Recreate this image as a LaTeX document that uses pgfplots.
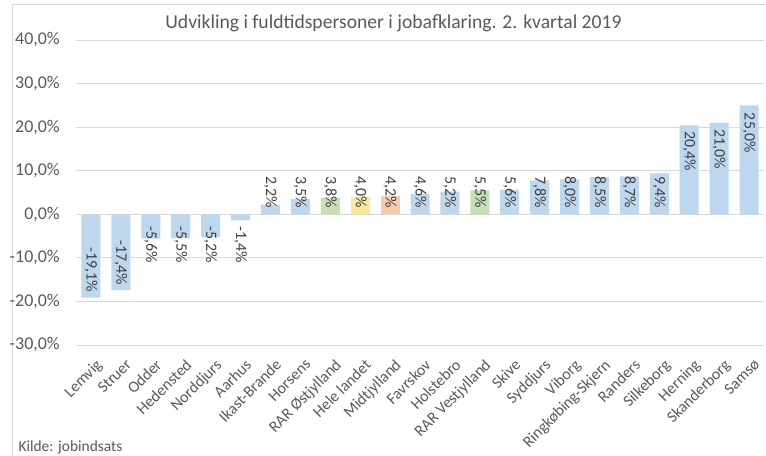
\documentclass[border=0pt]{standalone}
\usepackage{fontspec}
\setmainfont{Carlito}
\usepackage{pgfplots}
\pgfplotsset{compat=1.18}
\definecolor{barblue}{HTML}{BDD7EE}
\definecolor{bargreen}{HTML}{C5E0B4}
\definecolor{baryellow}{HTML}{FFE699}
\definecolor{barorange}{HTML}{F8CBAD}
\definecolor{gridgray}{HTML}{D9D9D9}
\definecolor{textgray}{HTML}{595959}
\definecolor{labelgray}{HTML}{404040}

\begin{document}
\begin{tikzpicture}
\path[use as bounding box] (0,0) rectangle (766bp,456bp);
\draw[gridgray, line width=0.8bp] (12bp,0) -- (12bp,452bp) -- (766bp,452bp);
\begin{axis}[
  at={(76bp,111bp)}, anchor=south west,
  scale only axis, width=688bp, height=305bp,
  xmin=-0.5, xmax=22.5, ymin=-30, ymax=40,
  axis line style={draw=none},
  major tick length=0pt,
  ytick={-30,-20,...,40},
  yticklabels={{-30,0\%},{-20,0\%},{-10,0\%},{0,0\%},{10,0\%},{20,0\%},{30,0\%},{40,0\%}},
  yticklabel style={font=\fontsize{18}{20}\selectfont, color=textgray, inner sep=0pt, xshift=-16bp},
  ymajorgrids, grid style={gridgray, line width=0.8bp},
  xtick={0,...,22},
  xticklabels={Lemvig,Struer,Odder,Hedensted,Norddjurs,Aarhus,Ikast-Brande,Horsens,
    RAR Østjylland,Hele landet,Midtjylland,Favrskov,Holstebro,RAR Vestjylland,Skive,
    Syddjurs,Viborg,Ringkøbing-Skjern,Randers,Silkeborg,Herning,Skanderborg,Samsø},
  xticklabel style={font=\fontsize{16}{18}\selectfont, color=textgray, inner sep=0pt,
    xshift=4bp, yshift=-13bp, rotate=45, anchor=north east},
]
% bars
\addplot[ybar, bar width=19bp, bar shift=0pt, fill=barblue, draw=none] coordinates {
  (0,-19.1) (1,-17.4) (2,-5.6) (3,-5.5) (4,-5.2) (5,-1.4) (6,2.2) (7,3.5)
  (11,4.6) (12,5.2) (14,5.6) (15,7.8) (16,8.0) (17,8.5) (18,8.7) (19,9.4)
  (20,20.4) (21,21.0) (22,25.0)};
\addplot[ybar, bar width=19bp, bar shift=0pt, fill=bargreen, draw=none] coordinates {
  (8,3.8) (13,5.5)};
\addplot[ybar, bar width=19bp, bar shift=0pt, fill=baryellow, draw=none] coordinates {
  (9,4.0)};
\addplot[ybar, bar width=19bp, bar shift=0pt, fill=barorange, draw=none] coordinates {
  (10,4.2)};
% data labels, text starting at the given height
\addplot[only marks, mark=*, mark size=0pt, mark options={draw=none, fill=none},
  nodes near coords, point meta=explicit symbolic,
  every node near coord/.append style={rotate=-90, anchor=west, inner sep=0pt,
    font=\fontsize{16}{18}\selectfont, text=labelgray}]
  coordinates {
  (2,-2.7) [-5,6\%] (3,-2.7) [-5,5\%] (4,-2.7) [-5,2\%] (5,-2.7) [-1,4\%]
  (6,8.7) [2,2\%] (7,8.7) [3,5\%] (8,8.7) [3,8\%] (9,8.7) [4,0\%] (10,8.7) [4,2\%]
  (11,8.7) [4,6\%] (12,8.7) [5,2\%] (13,8.7) [5,5\%] (14,8.7) [5,6\%]
  (15,8.7) [7,8\%] (16,8.7) [8,0\%] (17,8.7) [8,5\%] (18,8.7) [8,7\%] (19,8.7) [9,4\%]
  (20,19.0) [20,4\%] (21,19.5) [21,0\%] (22,23.3) [25,0\%]};
% data labels, text ending at the given height
\addplot[only marks, mark=*, mark size=0pt, mark options={draw=none, fill=none},
  nodes near coords, point meta=explicit symbolic,
  every node near coord/.append style={rotate=-90, anchor=east, inner sep=0pt,
    font=\fontsize{16}{18}\selectfont, text=labelgray}]
  coordinates {(0,-17.8) [-19,1\%] (1,-16.2) [-17,4\%]};
\end{axis}
\node[anchor=base, font=\fontsize{19.7}{22}\selectfont, color=textgray]
  at (393.5bp,427bp) {Udvikling i fuldtidspersoner i jobafklaring. 2. kvartal 2019};
\node[anchor=base west, font=\fontsize{15.5}{17}\selectfont, color=textgray]
  at (15bp,5bp) {Kilde: jobindsats};
\end{tikzpicture}
\end{document}
